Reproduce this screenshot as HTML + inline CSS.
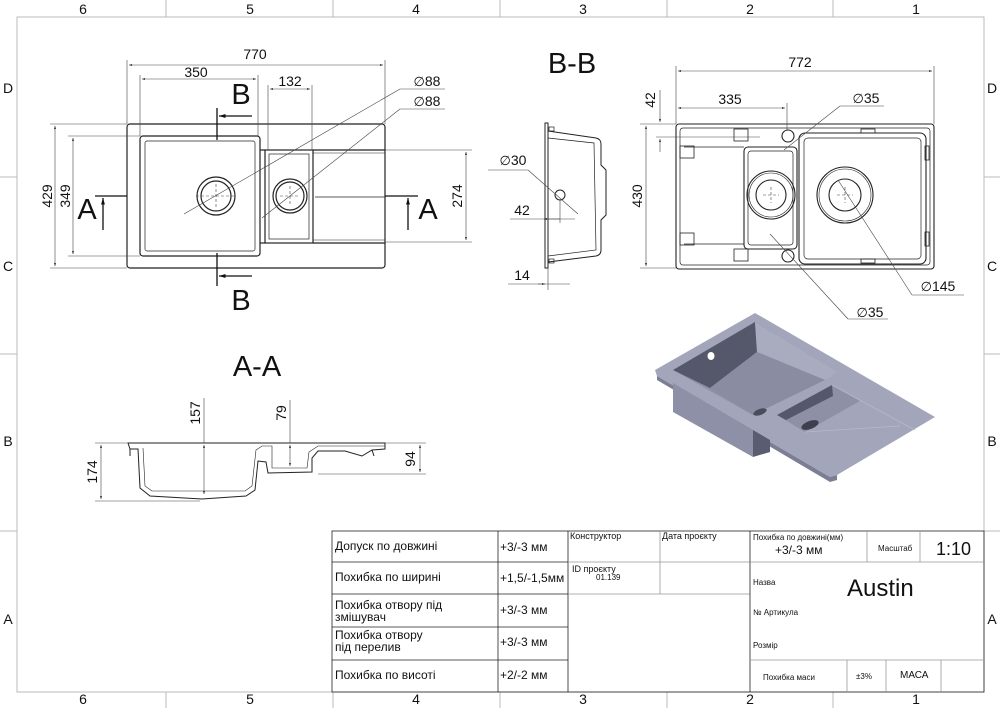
<!DOCTYPE html>
<html><head><meta charset="utf-8"><style>
html,body{margin:0;padding:0;background:#fff}
svg{display:block}
.t{font-family:"Liberation Sans",sans-serif;fill:#111}
.n{font-family:"Liberation Sans Narrow","Liberation Sans","DejaVu Sans",sans-serif;fill:#111}
.d{font-family:"DejaVu Sans",sans-serif;font-size:13px}
</style></head><body>
<svg width="1000" height="708" viewBox="0 0 1000 708" xmlns="http://www.w3.org/2000/svg">
<defs>
<marker id="ar" viewBox="0 0 10 10" refX="10" refY="5" markerWidth="9" markerHeight="5" orient="auto-start-reverse"><path d="M0,2 L10,5 L0,8 z" fill="#111"/></marker>
</defs>
<!-- frame -->
<g stroke="#bbb" fill="none" stroke-width="1">
<rect x="17" y="17" width="967" height="675"/>
<line x1="166" y1="0" x2="166" y2="17"/><line x1="333" y1="0" x2="333" y2="17"/><line x1="500" y1="0" x2="500" y2="17"/><line x1="667" y1="0" x2="667" y2="17"/><line x1="833" y1="0" x2="833" y2="17"/>
<line x1="166" y1="692" x2="166" y2="708"/><line x1="333" y1="692" x2="333" y2="708"/><line x1="500" y1="692" x2="500" y2="708"/><line x1="667" y1="692" x2="667" y2="708"/><line x1="833" y1="692" x2="833" y2="708"/>
<line x1="0" y1="177" x2="17" y2="177"/><line x1="0" y1="354" x2="17" y2="354"/><line x1="0" y1="531" x2="17" y2="531"/>
<line x1="984" y1="177" x2="1000" y2="177"/><line x1="984" y1="354" x2="1000" y2="354"/><line x1="984" y1="531" x2="1000" y2="531"/>
</g>
<g class="t" font-size="14" text-anchor="middle">
<text x="83" y="14">6</text><text x="250" y="14">5</text><text x="416" y="14">4</text><text x="583" y="14">3</text><text x="750" y="14">2</text><text x="916" y="14">1</text>
<text x="83" y="704">6</text><text x="250" y="704">5</text><text x="416" y="704">4</text><text x="583" y="704">3</text><text x="750" y="704">2</text><text x="916" y="704">1</text>
<text x="8" y="93">D</text><text x="8" y="271">C</text><text x="8" y="446">B</text><text x="8" y="624">A</text>
<text x="992" y="93">D</text><text x="992" y="271">C</text><text x="992" y="446">B</text><text x="992" y="624">A</text>
</g>

<!-- PLAN VIEW -->
<g fill="none" stroke="#222" stroke-width="1.2">
<rect x="127" y="124" width="258" height="144" rx="3"/>
<rect x="140" y="136" width="120" height="120" rx="3"/>
<rect x="145" y="141" width="110" height="110" rx="2" stroke-width="0.7"/>
<rect x="265" y="150" width="48" height="93"/>
<rect x="269" y="154" width="40" height="85" stroke-width="0.7"/>
<line x1="313" y1="150" x2="385" y2="150"/><line x1="313" y1="243" x2="385" y2="243"/>
<line x1="313" y1="153" x2="385" y2="153" stroke-width="0.6"/><line x1="313" y1="240" x2="385" y2="240" stroke-width="0.6"/>
<line x1="315" y1="197" x2="385" y2="197" stroke-width="0.8"/>
<line x1="260" y1="150" x2="265" y2="150"/><line x1="260" y1="243" x2="265" y2="243"/>
<circle cx="216" cy="196" r="19"/><circle cx="216" cy="196" r="15"/>
<circle cx="290" cy="196" r="17"/><circle cx="290" cy="196" r="14"/>
</g>
<g stroke="#444" stroke-width="0.6" fill="none">
<line x1="127" y1="60" x2="127" y2="124"/><line x1="385" y1="60" x2="385" y2="124"/>
<line x1="140" y1="75" x2="140" y2="136"/><line x1="258" y1="75" x2="258" y2="136"/>
<line x1="268" y1="85" x2="268" y2="150"/><line x1="312" y1="85" x2="312" y2="150"/>
<line x1="129" y1="65" x2="383" y2="65" marker-start="url(#ar)" marker-end="url(#ar)"/>
<line x1="142" y1="79" x2="256" y2="79" marker-start="url(#ar)" marker-end="url(#ar)"/>
<line x1="270" y1="89" x2="310" y2="89" marker-start="url(#ar)" marker-end="url(#ar)"/>
<line x1="50" y1="124" x2="127" y2="124"/><line x1="50" y1="268" x2="127" y2="268"/>
<line x1="68" y1="136" x2="140" y2="136"/><line x1="68" y1="256" x2="140" y2="256"/>
<line x1="385" y1="150" x2="472" y2="150"/><line x1="385" y1="242" x2="472" y2="242"/>
<line x1="55" y1="126" x2="55" y2="266" marker-start="url(#ar)" marker-end="url(#ar)"/>
<line x1="73" y1="138" x2="73" y2="254" marker-start="url(#ar)" marker-end="url(#ar)"/>
<line x1="466" y1="152" x2="466" y2="240" marker-start="url(#ar)" marker-end="url(#ar)"/>
<line x1="184" y1="214" x2="400" y2="89"/><line x1="400" y1="89" x2="445" y2="89"/>
<line x1="262" y1="218" x2="400" y2="109"/><line x1="400" y1="109" x2="445" y2="109"/>
<line x1="196" y1="196" x2="236" y2="196" stroke-dasharray="3,2"/><line x1="216" y1="184" x2="216" y2="208" stroke-dasharray="3,2"/>
<line x1="280" y1="196" x2="300" y2="196" stroke-dasharray="3,2"/><line x1="290" y1="186" x2="290" y2="206" stroke-dasharray="3,2"/>
</g>
<g stroke="#111" stroke-width="1.3" fill="none">
<line x1="95" y1="196" x2="127" y2="196"/><line x1="385" y1="196" x2="418" y2="196"/>
<line x1="103" y1="230" x2="103" y2="198" marker-end="url(#ar)"/>
<line x1="408" y1="230" x2="408" y2="198" marker-end="url(#ar)"/>
<line x1="217" y1="108" x2="217" y2="140"/><line x1="217" y1="253" x2="217" y2="286"/>
<line x1="252" y1="116" x2="219" y2="116" marker-end="url(#ar)"/>
<line x1="252" y1="276" x2="219" y2="276" marker-end="url(#ar)"/>
</g>
<g class="t" text-anchor="middle" font-size="14">
<text x="255" y="59">770</text><text x="196" y="77">350</text><text x="290" y="86">132</text>
<text x="427" y="86"><tspan class="d">∅</tspan>88</text><text x="427" y="106"><tspan class="d">∅</tspan>88</text>
<text transform="translate(52,196) rotate(-90)">429</text>
<text transform="translate(70,196) rotate(-90)">349</text>
<text transform="translate(462,196) rotate(-90)">274</text>
</g>
<g class="t" text-anchor="middle" font-size="29">
<text x="87" y="219">A</text><text x="428" y="219">A</text>
<text x="241" y="104">B</text><text x="241" y="310">B</text>
<text x="572" y="73">B-B</text><text x="257" y="376">A-A</text>
</g>

<!-- B-B section -->
<g fill="none" stroke="#222" stroke-width="1">
<rect x="545" y="123" width="3" height="145"/>
<path d="M548,131 L596,138 Q601,139 601,144 L601,165 L606,170 L606,215 L601,220 L601,250 Q601,255 596,256 L548,262"/>
<path d="M548,138 L594,143 L596,250 L548,256" stroke-width="0.7"/>
<rect x="549" y="127" width="5" height="4" stroke-width="0.7"/><rect x="549" y="259" width="5" height="4" stroke-width="0.7"/>
<circle cx="560" cy="195" r="5"/>
</g>
<g stroke="#444" stroke-width="0.6" fill="none">
<line x1="488" y1="170" x2="528" y2="170"/><line x1="528" y1="170" x2="578" y2="214"/>
<line x1="510" y1="219" x2="575" y2="219"/><line x1="544" y1="219" x2="560" y2="219" marker-start="url(#ar)"/>
<line x1="560" y1="200" x2="560" y2="223"/>
<line x1="508" y1="284" x2="570" y2="284"/><line x1="548" y1="268" x2="548" y2="290"/>
<line x1="538" y1="284" x2="545" y2="284" marker-end="url(#ar)"/>
</g>
<g class="t" text-anchor="middle" font-size="14">
<text x="513" y="165"><tspan class="d">∅</tspan>30</text><text x="522" y="215">42</text><text x="522" y="280">14</text>
</g>

<!-- Top-right view -->
<g fill="none" stroke="#222" stroke-width="1.1">
<rect x="676" y="124" width="258" height="145" rx="3"/>
<rect x="680" y="128" width="250" height="137" rx="3" stroke-width="0.7"/>
<rect x="799" y="133" width="127" height="131" rx="6"/>
<rect x="804" y="138" width="117" height="121" rx="4" stroke-width="0.7"/>
<rect x="744" y="147" width="53" height="102" rx="4"/>
<rect x="748" y="151" width="45" height="94" rx="3" stroke-width="0.7"/>
<line x1="684" y1="147" x2="744" y2="147" stroke-width="0.7"/><line x1="684" y1="244" x2="744" y2="244" stroke-width="0.7"/>
<circle cx="771" cy="195" r="24"/><circle cx="771" cy="195" r="22" stroke-width="0.6"/><circle cx="771" cy="195" r="15"/>
<circle cx="845" cy="195" r="28"/><circle cx="845" cy="195" r="26" stroke-width="0.6"/><circle cx="845" cy="195" r="16"/>
<circle cx="788" cy="136" r="6"/><circle cx="788" cy="256" r="6"/>
<rect x="734" y="129" width="14" height="12" stroke-width="0.8"/><rect x="734" y="249" width="14" height="12" stroke-width="0.8"/>
<rect x="680" y="146" width="14" height="12" stroke-width="0.8"/><rect x="680" y="233" width="14" height="12" stroke-width="0.8"/>
<rect x="861" y="129" width="14" height="4" stroke-width="0.8"/><rect x="861" y="259" width="14" height="4" stroke-width="0.8"/>
<rect x="925" y="146" width="4" height="14" stroke-width="0.8"/><rect x="925" y="232" width="4" height="14" stroke-width="0.8"/>
</g>
<g stroke="#444" stroke-width="0.6" fill="none">
<line x1="676" y1="66" x2="676" y2="124"/><line x1="934" y1="66" x2="934" y2="124"/>
<line x1="678" y1="71" x2="932" y2="71" marker-start="url(#ar)" marker-end="url(#ar)"/>
<line x1="787" y1="103" x2="787" y2="130"/>
<line x1="678" y1="108" x2="785" y2="108" marker-start="url(#ar)" marker-end="url(#ar)"/>
<line x1="640" y1="124" x2="676" y2="124"/><line x1="640" y1="268" x2="676" y2="268"/>
<line x1="656" y1="137" x2="760" y2="137"/>
<line x1="660" y1="90" x2="660" y2="122" marker-end="url(#ar)"/><line x1="660" y1="152" x2="660" y2="139" marker-end="url(#ar)"/>
<line x1="646" y1="126" x2="646" y2="266" marker-start="url(#ar)" marker-end="url(#ar)"/>
<line x1="784" y1="150" x2="840" y2="106"/><line x1="840" y1="106" x2="884" y2="106"/>
<line x1="838" y1="180" x2="912" y2="295"/><line x1="912" y1="295" x2="964" y2="295"/>
<line x1="770" y1="234" x2="848" y2="319"/><line x1="848" y1="319" x2="888" y2="319"/>
<line x1="763" y1="195" x2="779" y2="195" stroke-dasharray="3,2"/><line x1="771" y1="187" x2="771" y2="203" stroke-dasharray="3,2"/>
<line x1="837" y1="195" x2="853" y2="195" stroke-dasharray="3,2"/><line x1="845" y1="187" x2="845" y2="203" stroke-dasharray="3,2"/>
</g>
<g class="t" text-anchor="middle" font-size="14">
<text x="800" y="67">772</text><text x="730" y="104">335</text>
<text transform="translate(655,100) rotate(-90)">42</text>
<text transform="translate(642,196) rotate(-90)">430</text>
<text x="866" y="103"><tspan class="d">∅</tspan>35</text><text x="938" y="291"><tspan class="d">∅</tspan>145</text><text x="870" y="317"><tspan class="d">∅</tspan>35</text>
</g>

<!-- A-A section -->
<g fill="none" stroke="#222" stroke-width="1">
<path d="M128,443 L385,443 L385,449 L372,450 L362,456 L345,451 L318,451 L312,458 L312,472 L268,473 L266,462 L258,461 L255,490 L246,496 L202,499 L150,496 L140,488 L138,449 L130,449 Z"/>
<path d="M143,448 L145,486 L152,491 L245,491 L252,486 L256,450 L262,446 L272,446 L272,468 L307,468 L309,452 L318,446 L385,446" stroke-width="0.6"/>
<line x1="130" y1="449" x2="130" y2="456"/><line x1="372" y1="450" x2="374" y2="456"/>
</g>
<g stroke="#444" stroke-width="0.6" fill="none">
<line x1="204" y1="398" x2="204" y2="443"/><line x1="204" y1="445" x2="204" y2="494" marker-start="url(#ar)" marker-end="url(#ar)"/>
<line x1="290" y1="400" x2="290" y2="443"/><line x1="290" y1="445" x2="290" y2="466" marker-start="url(#ar)" marker-end="url(#ar)"/>
<line x1="95" y1="443" x2="128" y2="443"/><line x1="95" y1="501" x2="200" y2="501"/>
<line x1="101" y1="445" x2="101" y2="499" marker-start="url(#ar)" marker-end="url(#ar)"/>
<line x1="385" y1="443" x2="426" y2="443"/><line x1="318" y1="474" x2="426" y2="474"/>
<line x1="420" y1="445" x2="420" y2="472" marker-start="url(#ar)" marker-end="url(#ar)"/>
</g>
<g class="t" text-anchor="middle" font-size="14">
<text transform="translate(200,413) rotate(-90)">157</text>
<text transform="translate(286,413) rotate(-90)">79</text>
<text transform="translate(97,472) rotate(-90)">174</text>
<text transform="translate(415,459) rotate(-90)">94</text>
</g>

<!-- 3D render -->
<g stroke="none">
<polygon points="655,370 755,313 935,417 837,475 830,477 657,376" fill="#a3a6bb"/>
<polygon points="657,376 830,477 837,475 837,480 830,482 657,380" fill="#7c7f94"/>
<polygon points="673,383 753,430 753,457 673,412" fill="#8d90a6"/>
<polygon points="753,430 770,440 770,452 753,457" fill="#5a5d70"/>
<!-- main bowl -->
<polygon points="673,370 755,322 838,372 753,415" fill="#8e91a6"/>
<polygon points="673,370 755,322 757,352 710,388" fill="#55586b"/>
<polygon points="755,322 838,372 825,380 757,352" fill="#a9acbf"/>
<polygon points="710,388 757,352 825,380 753,415" fill="#8a8da2"/>
<!-- small bowl -->
<polygon points="777,415 832,385 860,401 805,432" fill="#8e91a6"/>
<polygon points="777,415 832,385 833,396 786,420" fill="#55586b"/>
<ellipse cx="711" cy="356" rx="3.5" ry="4" fill="#fff"/>
<ellipse cx="810" cy="425" rx="9" ry="4" fill="#3e4050" transform="rotate(-20 810 425)"/>
<ellipse cx="760" cy="412" rx="7" ry="3" fill="#4a4c5c" transform="rotate(-20 760 412)"/>
<line x1="805" y1="432" x2="900" y2="426" stroke="#b7b9c9" stroke-width="0.8"/>
<line x1="832" y1="385" x2="915" y2="430" stroke="#b7b9c9" stroke-width="0.8"/>
</g>

<!-- Title block -->
<g stroke="#222" stroke-width="0.8" fill="none">
<rect x="332" y="531" width="652" height="161"/>
<line x1="332" y1="562" x2="568" y2="562"/><line x1="332" y1="594" x2="568" y2="594"/><line x1="332" y1="627" x2="568" y2="627"/><line x1="332" y1="660" x2="568" y2="660"/>
<line x1="498" y1="531" x2="498" y2="692"/><line x1="568" y1="531" x2="568" y2="692"/>
<line x1="568" y1="562" x2="750" y2="562" stroke="#999"/><line x1="568" y1="594" x2="750" y2="594" stroke="#999"/>
<line x1="660" y1="531" x2="660" y2="594" stroke="#999"/>
<line x1="750" y1="531" x2="750" y2="692"/>
<line x1="750" y1="562" x2="984" y2="562" stroke="#999"/><line x1="750" y1="660" x2="984" y2="660" stroke="#999"/>
<line x1="867" y1="531" x2="867" y2="562" stroke="#999"/><line x1="920" y1="531" x2="920" y2="562" stroke="#999"/>
<line x1="847" y1="660" x2="847" y2="692" stroke="#999"/><line x1="886" y1="660" x2="886" y2="692" stroke="#999"/><line x1="941" y1="660" x2="941" y2="692" stroke="#999"/>
</g>
<g class="n" font-size="12">
<text x="335" y="550">Допуск по довжині</text>
<text x="335" y="581">Похибка по ширині</text>
<text x="335" y="609">Похибка отвору під</text><text x="335" y="621">змішувач</text>
<text x="335" y="639">Похибка отвору</text><text x="335" y="651">під перелив</text>
<text x="335" y="679">Похибка по висоті</text>
<text x="500" y="551">+3/-3 мм</text><text x="500" y="582">+1,5/-1,5мм</text>
<text x="500" y="614">+3/-3 мм</text><text x="500" y="646">+3/-3 мм</text><text x="500" y="679">+2/-2 мм</text>
<text x="570" y="539" font-size="9">Конструктор</text><text x="662" y="539" font-size="9">Дата проєкту</text>
<text x="572" y="572" font-size="9">ID проєкту</text><text x="596" y="580" font-size="8">01.139</text>
<text x="753" y="540" font-size="8">Похибка по довжині(мм)</text>
<text x="775" y="554">+3/-3 мм</text>
<text x="878" y="551" font-size="8">Масштаб</text>
<text x="936" y="555" font-size="18">1:10</text>
<text x="753" y="585" font-size="8">Назва</text>
<text x="847" y="596" font-size="24">Austin</text>
<text x="753" y="615" font-size="8">№ Артикула</text>
<text x="753" y="648" font-size="8">Розмір</text>
<text x="763" y="680" font-size="8">Похибка маси</text>
<text x="856" y="679" font-size="8">±3%</text>
<text x="900" y="678" font-size="10">МАСА</text>
</g>
</svg>
</body></html>
